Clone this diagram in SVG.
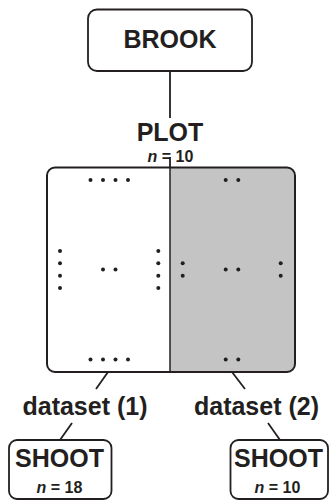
<svg xmlns="http://www.w3.org/2000/svg" width="330" height="502" viewBox="0 0 330 502">
<style>
.box{fill:#fff;stroke:#231f20;stroke-width:1.8}
.ln{stroke:#231f20;stroke-width:1.8;fill:none}
.t{font-family:"Liberation Sans",Arial,sans-serif;font-weight:bold;fill:#231f20;text-anchor:middle}
.big{font-size:25px}
.ds{font-size:25px}
.n{font-size:16px}
.dot{fill:#231f20}
</style>
<rect width="330" height="502" fill="#fff"/>
<g id="connectors">
<line class="ln" x1="170" y1="71" x2="170" y2="118"/>
<line class="ln" x1="170" y1="157" x2="170" y2="167"/>
<line class="ln" x1="108" y1="372" x2="96" y2="389"/>
<line class="ln" x1="232" y1="372" x2="245" y2="389"/>
<line class="ln" x1="72" y1="423" x2="60" y2="440"/>
<line class="ln" x1="268" y1="423" x2="280" y2="440"/>
</g>
<g id="brook">
<rect class="box" x="88" y="9.5" width="164" height="61.5" rx="9"/>
<text class="t big" x="170" y="48">BROOK</text>
</g>
<g id="plot-label">
<text class="t big" x="170" y="141">PLOT</text>
<text class="t n" x="170.5" y="162"><tspan font-style="italic">n</tspan> = 10</text>
</g>
<g id="plot">
<path d="M170 167.5 H287 a8 8 0 0 1 8 8 V364 a8 8 0 0 1 -8 8 H170 Z" fill="#c4c4c4"/>
<rect x="47" y="167.5" width="248" height="204.5" rx="8" fill="none" stroke="#231f20" stroke-width="2"/>
<line x1="170" y1="167.5" x2="170" y2="372" stroke="#231f20" stroke-width="1.5"/>
<g class="dot">
<circle cx="90.5" cy="180" r="2"/><circle cx="103" cy="180" r="2"/><circle cx="115.5" cy="180" r="2"/><circle cx="128" cy="180" r="2"/>
<circle cx="90.5" cy="359.5" r="2"/><circle cx="103" cy="359.5" r="2"/><circle cx="115.5" cy="359.5" r="2"/><circle cx="128" cy="359.5" r="2"/>
<circle cx="60" cy="251" r="2"/><circle cx="60" cy="263.3" r="2"/><circle cx="60" cy="275.7" r="2"/><circle cx="60" cy="288" r="2"/>
<circle cx="158.3" cy="251" r="2"/><circle cx="158.3" cy="263.3" r="2"/><circle cx="158.3" cy="275.7" r="2"/><circle cx="158.3" cy="288" r="2"/>
<circle cx="103" cy="269.5" r="2"/><circle cx="115.5" cy="269.5" r="2"/>
<circle cx="225.7" cy="180" r="2"/><circle cx="238.3" cy="180" r="2"/>
<circle cx="225.7" cy="359.5" r="2"/><circle cx="238.3" cy="359.5" r="2"/>
<circle cx="225.7" cy="269.5" r="2"/><circle cx="238.3" cy="269.5" r="2"/>
<circle cx="182.7" cy="263.3" r="2"/><circle cx="182.7" cy="275.7" r="2"/>
<circle cx="280.7" cy="263.3" r="2"/><circle cx="280.7" cy="275.7" r="2"/>
</g>
</g>
<g id="dataset1">
<text class="t ds" x="85" y="415">dataset (1)</text>
</g>
<g id="dataset2">
<text class="t ds" x="256.5" y="415">dataset (2)</text>
</g>
<g id="shoot1">
<rect class="box" x="9" y="440" width="102.5" height="59" rx="8"/>
<text class="t big" x="59.5" y="467">SHOOT</text>
<text class="t n" x="59.5" y="493"><tspan font-style="italic">n</tspan> = 18</text>
</g>
<g id="shoot2">
<rect class="box" x="230.5" y="440" width="97.5" height="59" rx="8"/>
<text class="t big" x="278.5" y="467">SHOOT</text>
<text class="t n" x="277.5" y="493"><tspan font-style="italic">n</tspan> = 10</text>
</g>
</svg>
